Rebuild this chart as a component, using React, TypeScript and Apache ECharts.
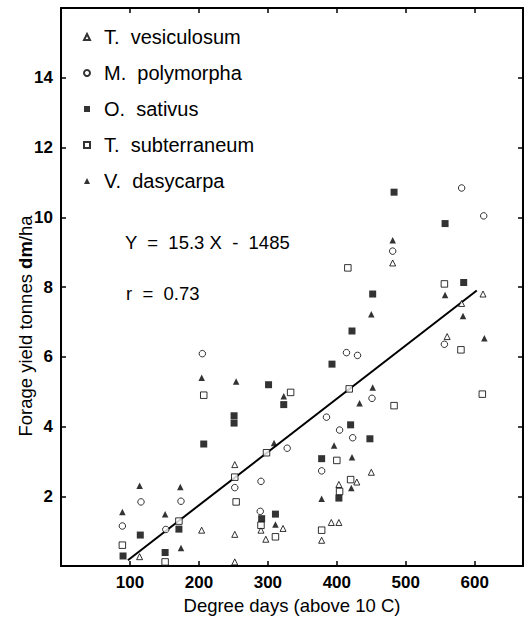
import React, { useEffect, useRef } from "react";
import * as echarts from "echarts";

const FONT = "'Liberation Sans', Arial, Helvetica, sans-serif";

// Legend / series names
const seriesNames = [
  "T.  vesiculosum",
  "M.  polymorpha",
  "O.  sativus",
  "T.  subterraneum",
  "V.  dasycarpa",
];

// [degree days, forage yield t dm/ha]
const vesiculosum = [
  [114, 0.27], [204, 1.03], [252, 2.91], [252, 0.91], [252, 0.12], [290, 1.03],
  [297, 0.77], [322, 1.08], [378, 0.74], [392, 1.25], [403, 1.25], [403, 2.34],
  [429, 2.41], [450, 2.69], [481, 8.69], [560, 6.58], [581, 7.53], [612, 7.8],
];
const polymorpha = [
  [89, 1.15], [116, 1.84], [152, 1.05], [174, 1.86], [205, 6.09], [252, 2.25],
  [289, 1.57], [290, 2.43], [328, 3.38], [378, 2.73], [385, 4.27], [404, 3.9],
  [414, 6.12], [423, 3.68], [430, 6.04], [451, 4.81], [481, 9.03], [556, 6.36],
  [581, 10.84], [613, 10.04],
];
const sativus = [
  [90, 0.29], [115, 0.89], [151, 0.39], [171, 1.06], [207, 3.5], [251, 4.31],
  [251, 4.1], [291, 1.36], [301, 5.2], [311, 1.49], [323, 4.63], [378, 3.08],
  [393, 5.79], [403, 1.95], [420, 4.05], [422, 6.74], [448, 3.65], [452, 7.8],
  [483, 10.72], [557, 9.82], [584, 8.13],
];
const subterraneum = [
  [89, 0.6], [151, 0.12], [171, 1.29], [207, 4.9], [252, 2.55], [254, 1.84],
  [290, 1.17], [298, 3.25], [311, 0.84], [333, 4.98], [378, 1.03], [400, 3.03],
  [404, 2.14], [416, 8.55], [418, 5.08], [420, 2.48], [483, 4.6], [556, 8.09],
  [580, 6.2], [611, 4.93],
];
const dasycarpa = [
  [89, 1.55], [114, 2.3], [151, 1.49], [173, 2.27], [174, 0.52], [204, 5.4],
  [254, 5.29], [309, 3.53], [311, 1.19], [323, 4.87], [378, 1.93], [396, 3.46],
  [421, 2.24], [422, 3.12], [433, 4.67], [450, 7.22], [452, 5.12], [481, 9.34],
  [557, 7.77], [583, 7.17], [614, 6.53],
];
const regressionLine = [
  [97, 0.17],
  [603, 7.9],
];

const equationText = "Y  =  15.3 X  -  1485";
const rText = "r  =  0.73";
const xTitle = "Degree days (above 10 C)";

const X_MIN = 0;
const X_MAX = 670;
const X_STEP = 100;
const Y_MIN = 0;
const Y_MAX = 16;
const Y_STEP = 2;

export default function App() {
  const ref = useRef<HTMLDivElement>(null);

  useEffect(() => {
    if (!ref.current) return;
    const chart = echarts.init(ref.current, undefined, { renderer: "svg" });

    const axisLine = { show: true, onZero: false, lineStyle: { color: "#000", width: 2 } };
    const tick = { show: true, inside: true, length: 5, lineStyle: { color: "#000", width: 1.5 } };
    const tickLabelStyle = {
      color: "#000",
      fontFamily: FONT,
      fontSize: 17,
      fontWeight: "bold" as const,
    };

    const hollow = { color: "#fff", borderColor: "#000", borderWidth: 1 };
    const solid = { color: "#000", borderColor: "#000", borderWidth: 0 };

    const mk = (name: string, data: number[][], symbol: string, size: number, style: any) => ({
      name,
      type: "scatter",
      data,
      symbol,
      symbolSize: size,
      itemStyle: style,
      z: 3,
      emphasis: { disabled: true },
    });

    chart.setOption({
      animation: false,
      backgroundColor: "#fff",
      textStyle: { fontFamily: FONT },
      grid: { left: 61, right: 3, top: 8, bottom: 53, show: false },
      legend: {
        orient: "vertical",
        left: 78,
        top: 22,
        itemWidth: 6,
        itemHeight: 6,
        itemGap: 16,
        selectedMode: false,
        data: seriesNames,
        textStyle: {
          color: "#000",
          fontFamily: FONT,
          fontSize: 20,
          lineHeight: 20,
          padding: [0, 0, 0, 9],
        },
      },
      xAxis: [
        {
          type: "value",
          min: X_MIN,
          max: X_MAX,
          interval: X_STEP,
          position: "bottom",
          axisLine,
          axisTick: tick,
          splitLine: { show: false },
          axisLabel: { ...tickLabelStyle, margin: 8, showMinLabel: false, showMaxLabel: false },
          name: xTitle,
          nameLocation: "middle",
          nameGap: 26,
          nameTextStyle: { color: "#000", fontFamily: FONT, fontSize: 18.5 },
        },
        {
          type: "value",
          min: X_MIN,
          max: X_MAX,
          interval: X_STEP,
          position: "top",
          axisLine,
          axisTick: tick,
          splitLine: { show: false },
          axisLabel: { show: false },
        },
      ],
      yAxis: [
        {
          type: "value",
          min: Y_MIN,
          max: Y_MAX,
          interval: Y_STEP,
          position: "left",
          axisLine,
          axisTick: tick,
          splitLine: { show: false },
          axisLabel: { ...tickLabelStyle, margin: 8, showMinLabel: false, showMaxLabel: false },
        },
        {
          type: "value",
          min: Y_MIN,
          max: Y_MAX,
          interval: Y_STEP,
          position: "right",
          axisLine,
          axisTick: tick,
          splitLine: { show: false },
          axisLabel: { show: false },
        },
      ],
      graphic: [
        {
          type: "text",
          x: 125,
          y: 242,
          style: {
            text: equationText,
            fill: "#000",
            fontFamily: FONT,
            fontSize: 18.5,
            align: "left",
            verticalAlign: "middle",
            textAlign: "left",
            textVerticalAlign: "middle",
          },
        },
        {
          type: "text",
          x: 126,
          y: 293,
          style: {
            text: rText,
            fill: "#000",
            fontFamily: FONT,
            fontSize: 18.5,
            align: "left",
            verticalAlign: "middle",
            textAlign: "left",
            textVerticalAlign: "middle",
          },
        },
        {
          type: "text",
          x: 25,
          y: 326,
          rotation: Math.PI / 2,
          style: {
            text: "{a|Forage yield tonnes }{b|dm}{a|/ha}",
            fill: "#000",
            align: "center",
            verticalAlign: "middle",
            textAlign: "center",
            textVerticalAlign: "middle",
            rich: {
              a: { fontFamily: FONT, fontSize: 18.5, fill: "#000" },
              b: { fontFamily: FONT, fontSize: 18.5, fontWeight: "bold", fill: "#000" },
            },
          },
        },
      ],
      series: [
        {
          name: "regression",
          type: "line",
          data: regressionLine,
          symbol: "none",
          lineStyle: { color: "#000", width: 2 },
          z: 2,
          silent: true,
        },
        mk(seriesNames[0], vesiculosum, "triangle", 6, hollow),
        mk(seriesNames[1], polymorpha, "circle", 6.5, hollow),
        mk(seriesNames[2], sativus, "rect", 7, solid),
        mk(seriesNames[3], subterraneum, "rect", 6.5, hollow),
        mk(seriesNames[4], dasycarpa, "triangle", 6.5, solid),
      ],
    });

    return () => chart.dispose();
  }, []);

  return (
    <div
      ref={ref}
      style={{ position: "absolute", left: 0, top: 0, width: 526, height: 620, background: "#fff" }}
    />
  );
}
